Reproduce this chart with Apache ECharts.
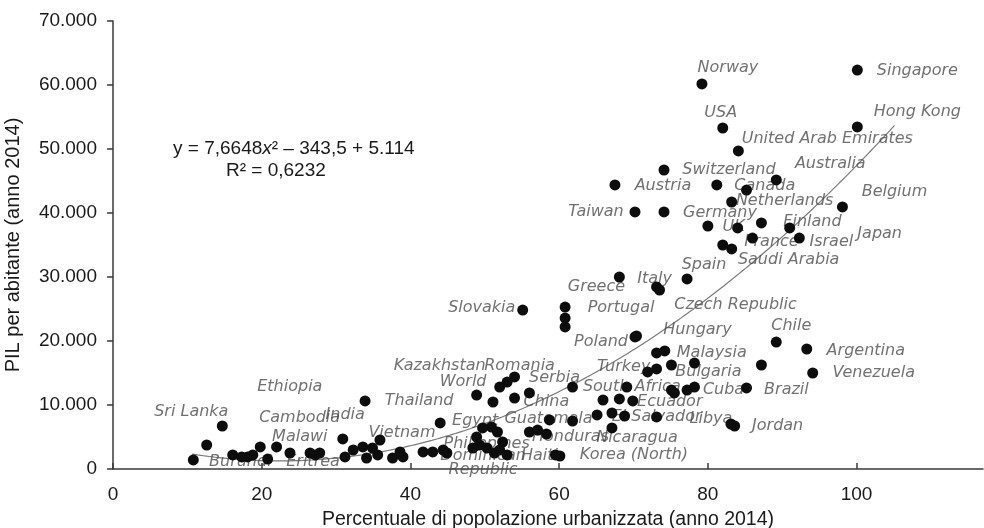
<!DOCTYPE html>
<html>
<head>
<meta charset="utf-8">
<title>PIL per abitante e urbanizzazione (2014)</title>
<script src="https://cdn.jsdelivr.net/npm/echarts@6/dist/echarts.min.js"></script>
<style>
  html, body { margin: 0; padding: 0; background: #fff; }
  #chart { width: 984px; height: 528px; }
</style>
</head>
<body>
<div id="chart"></div>
<script>
// Paesi con etichetta: quota di popolazione urbana (%) e PIL pro capite (2014)
const countries = [
  'Singapore', 'Norway', 'Hong Kong', 'USA', 'United Arab Emirates', 'Switzerland',
  'Australia', 'Austria', 'Canada', 'Netherlands', 'Belgium', 'Taiwan', 'Germany',
  'UK', 'Finland', 'Japan', 'France', 'Israel', 'Saudi Arabia', 'Spain', 'Greece',
  'Italy', 'Czech Republic', 'Portugal', 'Slovakia', 'Poland', 'Hungary', 'Chile',
  'Argentina', 'Venezuela', 'Malaysia', 'Turkey', 'Bulgaria', 'Brazil', 'Cuba',
  'South Africa', 'Ecuador', 'El Salvador', 'Libya', 'Jordan', 'Nicaragua',
  'Korea (North)', 'Haiti', 'Honduras', 'Guatemala', 'Egypt', 'China', 'Serbia',
  'Romania', 'Kazakhstan', 'World', 'Thailand', 'Sri Lanka', 'Ethiopia', 'Cambodia',
  'India', 'Malawi', 'Vietnam', 'Burundi', 'Eritrea', 'Philippines', 'Dominican Republic'
];
const urbanShare = [
  100.1, 79.2, 100.1, 82.0, 84.1, 74.1,
  89.2, 67.5, 81.2, 83.2, 98.1, 70.2, 74.1,
  84.0, 87.2, 91.0, 86.0, 92.3, 83.2, 77.2, 68.1,
  73.1, 73.5, 60.8, 55.1, 70.2, 70.4, 89.2,
  93.3, 94.1, 74.2, 71.9, 75.1, 87.2, 85.2,
  69.1, 69.9, 68.8, 83.1, 83.6, 67.1,
  60.1, 59.5, 58.3, 58.7, 44.0, 56.0, 61.8,
  54.0, 52.0, 53.0, 33.9, 14.7, 18.8, 22.0,
  32.3, 30.9, 35.9, 10.8, 26.5, 48.9, 53.0
];
const gdpPerCapita = [
  62340, 60160, 53440, 53280, 49690, 46720,
  45160, 44380, 44380, 41720, 40940, 40160, 40160,
  37660, 38440, 37660, 36090, 36090, 34380, 29690, 30000,
  28440, 27970, 25310, 24840, 20630, 20780, 19840,
  18750, 15000, 18440, 15160, 16250, 16250, 12660,
  12810, 10630, 8280, 7030, 6720, 6410,
  2030, 2190, 5470, 7660, 7190, 11880, 12810,
  14380, 12810, 13590, 10630, 6720, 2190, 3440,
  2970, 4690, 4530, 1410, 2500, 5000, 2190
];

// Paesi senza etichetta
const otherUrbanShare = [
  85.2, 80.0, 82.0, 60.8, 60.8, 73.1, 73.1, 78.2, 75.1, 75.5, 77.2, 78.2,
  65.9, 68.1, 65.1, 67.1, 73.1, 56.0, 57.1, 61.8, 54.0, 48.9, 51.1,
  12.6, 16.1, 17.3, 18.1, 19.8, 20.8, 23.8, 27.2, 27.8, 31.2, 33.6, 34.1,
  34.9, 35.6, 37.6, 39.0, 38.6, 41.7, 43.0, 44.4, 44.9,
  49.7, 50.9, 51.7, 52.4, 52.0, 51.3, 50.3, 49.3, 48.4
];
const otherGdpPerCapita = [
  43590, 37970, 35000, 23590, 22190, 18130, 15630, 16560, 12340, 11880, 12340, 12810,
  10780, 10940, 8440, 8750, 8130, 5780, 6090, 7500, 11090, 11560, 10470,
  3750, 2190, 1880, 1880, 3440, 1560, 2500, 2190, 2500, 1880, 3440, 1720,
  3280, 2190, 1720, 1880, 2660, 2660, 2660, 2970, 2500,
  6410, 6560, 5780, 4220, 2970, 2500, 3280, 3750, 3280
];

// Linea di tendenza polinomiale (ordine 2): y = a·x² + b·x + c
const trendCoefficients = [7.6648, -343.5, 5114];
const trendRange = [10.6, 105.1];

const xTicks = [0, 20, 40, 60, 80, 100];
const trendR2 = 'R² = 0,6232';

// Posizione delle etichette rispetto al punto (pixel)
const labelOffsets = {
  'Singapore': [60, 1], 'Norway': [26, -16], 'Hong Kong': [60, -15], 'USA': [-2, -15],
  'United Arab Emirates': [89, -12], 'Switzerland': [65, 0], 'Australia': [54, -16],
  'Austria': [48, 1], 'Canada': [48, 1], 'Netherlands': [53, -1], 'Belgium': [52, -15],
  'Taiwan': [-39, 0], 'Germany': [56, 1], 'UK': [-4, -1], 'Finland': [51, -1],
  'Japan': [90, 6], 'France': [19, 4], 'Israel': [32, 4], 'Saudi Arabia': [57, 11],
  'Spain': [17, -14], 'Greece': [-23, 10], 'Italy': [-2, -8], 'Czech Republic': [76, 15],
  'Portugal': [56, 1], 'Slovakia': [-41, -2], 'Poland': [-34, 5], 'Hungary': [61, -6],
  'Chile': [15, -16], 'Argentina': [59, 2], 'Venezuela': [61, 0], 'Malaysia': [47, 2],
  'Turkey': [-24, -5], 'Bulgaria': [37, 7], 'Brazil': [25, 25], 'Cuba': [-23, 2],
  'South Africa': [5, 0], 'Ecuador': [37, 1], 'El Salvador': [32, 1], 'Libya': [-20, -5],
  'Jordan': [43, 0], 'Nicaragua': [25, 10], 'Korea (North)': [74, -1], 'Haiti': [-16, 1],
  'Honduras': [24, 3], 'Guatemala': [-1, -1], 'Egypt': [35, -2], 'China': [17, 9],
  'Serbia': [-18, -9], 'Romania': [5, -11], 'Kazakhstan': [-60, -21], 'World': [-44, 0],
  'Thailand': [54, 0], 'Sri Lanka': [-31, -14], 'Ethiopia': [37, -68], 'Cambodia': [23, -29],
  'India': [-8, -35], 'Malawi': [-43, -2], 'Vietnam': [22, -7], 'Burundi': [47, 2],
  'Eritrea': [3, 9], 'Philippines': [10, 7], 'Dominican Republic': [-24, 8]
};
const labelText = { 'Dominican Republic': 'Dominican\nRepublic' };

// Punti
const labeledPoints = countries.map((name, i) => [urbanShare[i], gdpPerCapita[i], name]);
const otherPoints = otherUrbanShare.map((x, i) => [x, otherGdpPerCapita[i], '']);
const allPoints = labeledPoints.concat(otherPoints);

const labelData = labeledPoints.map(p => ({
  value: p,
  name: p[2],
  label: { offset: labelOffsets[p[2]] || [0, 0] }
}));

// Curva della linea di tendenza
const trendCurve = [];
const steps = 120;
for (let k = 0; k <= steps; k++) {
  const x = trendRange[0] + (trendRange[1] - trendRange[0]) * k / steps;
  const [a, b, c] = trendCoefficients;
  trendCurve.push([x, a * x * x + b * x + c]);
}

const axisFont = 'Liberation Sans, Arial, sans-serif';
const textColor = '#1a1a1a';
const chart = echarts.init(document.getElementById('chart'));
chart.setOption({
  animation: false,
  backgroundColor: '#ffffff',
  grid: { left: 113, right: 1, top: 21, bottom: 59, containLabel: false, outerBoundsMode: 'none' },
  xAxis: {
    type: 'value',
    min: 0,
    max: 117,
    interval: 20,
    name: 'Percentuale di popolazione urbanizzata (anno 2014)',
    nameLocation: 'middle',
    nameGap: 41,
    nameTextStyle: { fontFamily: axisFont, fontSize: 19.5, color: textColor },
    splitLine: { show: false },
    axisLine: { show: true, onZero: false, lineStyle: { color: '#3a3a3a', width: 1.5 } },
    axisTick: { show: true, inside: true, length: 6, customValues: xTicks, lineStyle: { color: '#3a3a3a', width: 1.5 } },
    axisLabel: { customValues: xTicks, margin: 16, fontFamily: axisFont, fontSize: 19, color: textColor }
  },
  yAxis: {
    type: 'value',
    min: 0,
    max: 70000,
    interval: 10000,
    name: 'PIL per abitante (anno 2014)',
    nameLocation: 'middle',
    nameRotate: 90,
    nameGap: 90,
    nameTextStyle: { fontFamily: axisFont, fontSize: 20, color: textColor },
    splitLine: { show: false },
    axisLine: { show: true, lineStyle: { color: '#3a3a3a', width: 1.5 } },
    axisTick: { show: true, inside: false, length: 6, lineStyle: { color: '#3a3a3a', width: 1.5 } },
    axisLabel: {
      margin: 16,
      fontFamily: axisFont,
      fontSize: 19,
      color: textColor,
      formatter: v => v === 0 ? '0' : (v / 1000) + '.000'
    }
  },
  graphic: [
    {
      type: 'text',
      left: 173,
      top: 139,
      style: {
        text: '{n|y = 7,6648}{i|x}{n|² – 343,5 + 5.114}',
        rich: {
          n: { fontFamily: axisFont, fontSize: 19, fill: textColor },
          i: { fontFamily: axisFont, fontSize: 19, fontStyle: 'italic', fill: textColor }
        }
      }
    },
    {
      type: 'text',
      left: 226,
      top: 161,
      style: { text: trendR2, fontFamily: axisFont, fontSize: 19, fill: textColor }
    }
  ],
  series: [
    {
      name: 'Tendenza',
      type: 'line',
      data: trendCurve,
      showSymbol: false,
      smooth: true,
      silent: true,
      z: 1,
      lineStyle: { color: '#7a7a7a', width: 1.2 }
    },
    {
      name: 'Etichette',
      type: 'scatter',
      data: labelData,
      symbolSize: 0,
      silent: true,
      z: 2,
      label: {
        show: true,
        position: 'inside',
        align: 'center',
        verticalAlign: 'middle',
        formatter: p => labelText[p.name] || p.name,
        fontFamily: 'DejaVu Sans, sans-serif',
        fontStyle: 'italic',
        fontSize: 16,
        lineHeight: 14,
        color: '#4d4d4d'
      }
    },
    {
      name: 'Paesi',
      type: 'scatter',
      data: allPoints,
      symbol: 'circle',
      symbolSize: 11,
      z: 3,
      itemStyle: { color: '#0d0d0d', opacity: 1 }
    }
  ]
});
</script>
</body>
</html>
